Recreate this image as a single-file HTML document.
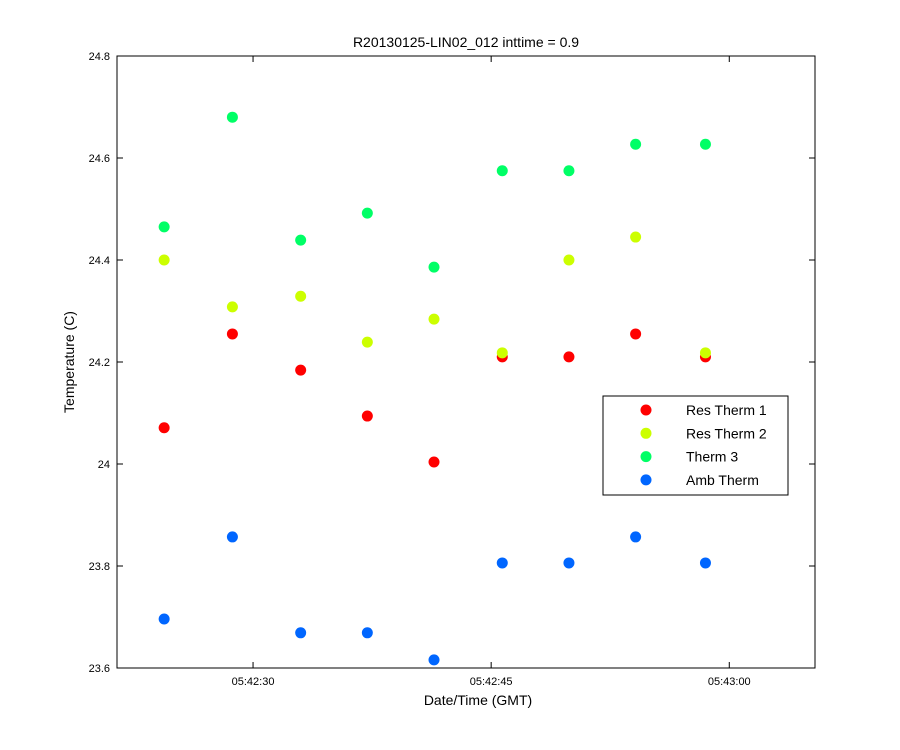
<!DOCTYPE html>
<html><head><meta charset="utf-8"><style>
body{margin:0;background:#fff;}
svg{display:block;font-family:"Liberation Sans",Arial,sans-serif;}
</style></head><body>
<svg id="chart" width="900" height="750">
<rect width="900" height="750" fill="#fff"/>
<text x="466" y="47" font-size="14" text-anchor="middle">R20130125-LIN02_012 inttime = 0.9</text>
<rect x="117" y="56" width="698" height="612" fill="#fff" stroke="#000" stroke-width="1"/>
<g id="ticks"></g>
<g id="marks"></g>
<text x="478" y="705" font-size="14" text-anchor="middle">Date/Time (GMT)</text>
<text transform="translate(74,362) rotate(-90)" font-size="14" text-anchor="middle">Temperature (C)</text>
<g id="legend">
<rect x="603" y="396" width="185" height="99" fill="#fff" stroke="#000"/>
</g>
</svg>
<script>
// times in seconds after 05:42:00
const times = [24.4, 28.7, 33.0, 37.2, 41.4, 45.7, 49.9, 54.1, 58.5];
const seriesNames = ["Res Therm 1", "Res Therm 2", "Therm 3", "Amb Therm"];
const resTherm1 = [24.071, 24.255, 24.184, 24.094, 24.004, 24.210, 24.210, 24.255, 24.210];
const resTherm2 = [24.400, 24.308, 24.329, 24.239, 24.284, 24.218, 24.400, 24.445, 24.218];
const therm3 = [24.465, 24.680, 24.439, 24.492, 24.386, 24.575, 24.575, 24.627, 24.627];
const ambTherm = [23.696, 23.857, 23.669, 23.669, 23.616, 23.806, 23.806, 23.857, 23.806];
const yTicks = [23.6, 23.8, 24, 24.2, 24.4, 24.6, 24.8];
const yTickLabels = ["23.6", "23.8", "24", "24.2", "24.4", "24.6", "24.8"];
const xTicks = [30, 45, 60];
const xTickLabels = ["05:42:30", "05:42:45", "05:43:00"];

const colors = ["#ff0000", "#ccff00", "#00ff66", "#0066ff"];
const L = 117, R = 815, T = 56, B = 668;
const xMin = 21.43, xMax = 65.4, yMin = 23.6, yMax = 24.8;
const xs = v => L + (v - xMin) / (xMax - xMin) * (R - L);
const ys = v => B - (v - yMin) / (yMax - yMin) * (B - T);
const NS = "http://www.w3.org/2000/svg";
function mk(tag, attrs, parent) {
  const e = document.createElementNS(NS, tag);
  for (const k in attrs) e.setAttribute(k, attrs[k]);
  parent.appendChild(e);
  return e;
}
const tg = document.getElementById("ticks");
yTicks.forEach((v, i) => {
  const y = ys(v);
  const a = mk("line", {x1: L, x2: L + 6, y1: y, y2: y, stroke: "#000"}, tg);
  
  
  const b = mk("line", {x1: R - 6, x2: R, y1: y, y2: y, stroke: "#000"}, tg);
  
  
  const t = mk("text", {x: L - 7, y: y + 4, "font-size": 11, "text-anchor": "end"}, tg);
  t.textContent = yTickLabels[i];
  
  
});
xTicks.forEach((v, i) => {
  const x = xs(v);
  const a = mk("line", {x1: x, x2: x, y1: B, y2: B - 6, stroke: "#000"}, tg);
  
  
  const b = mk("line", {x1: x, x2: x, y1: T, y2: T + 6, stroke: "#000"}, tg);
  
  
  const t = mk("text", {x: x, y: B + 17, "font-size": 11, "text-anchor": "middle"}, tg);
  t.textContent = xTickLabels[i];
  
  
});
const mg = document.getElementById("marks");
[resTherm1, resTherm2, therm3, ambTherm].forEach((s, si) => {
  s.forEach((v, i) => {
    const c = mk("circle", {cx: xs(times[i]), cy: ys(v), r: 5.5, fill: colors[si]}, mg);
    
    
  });
});
const lg = document.getElementById("legend");
seriesNames.forEach((n, i) => {
  const y = 410 + i * 23.3;
  const c = mk("circle", {cx: 646, cy: y, r: 5.5, fill: colors[i]}, lg);
  
  
  const t = mk("text", {x: 686, y: y + 5, "font-size": 14}, lg);
  t.textContent = n;
  
  
});
</script>
</body></html>
